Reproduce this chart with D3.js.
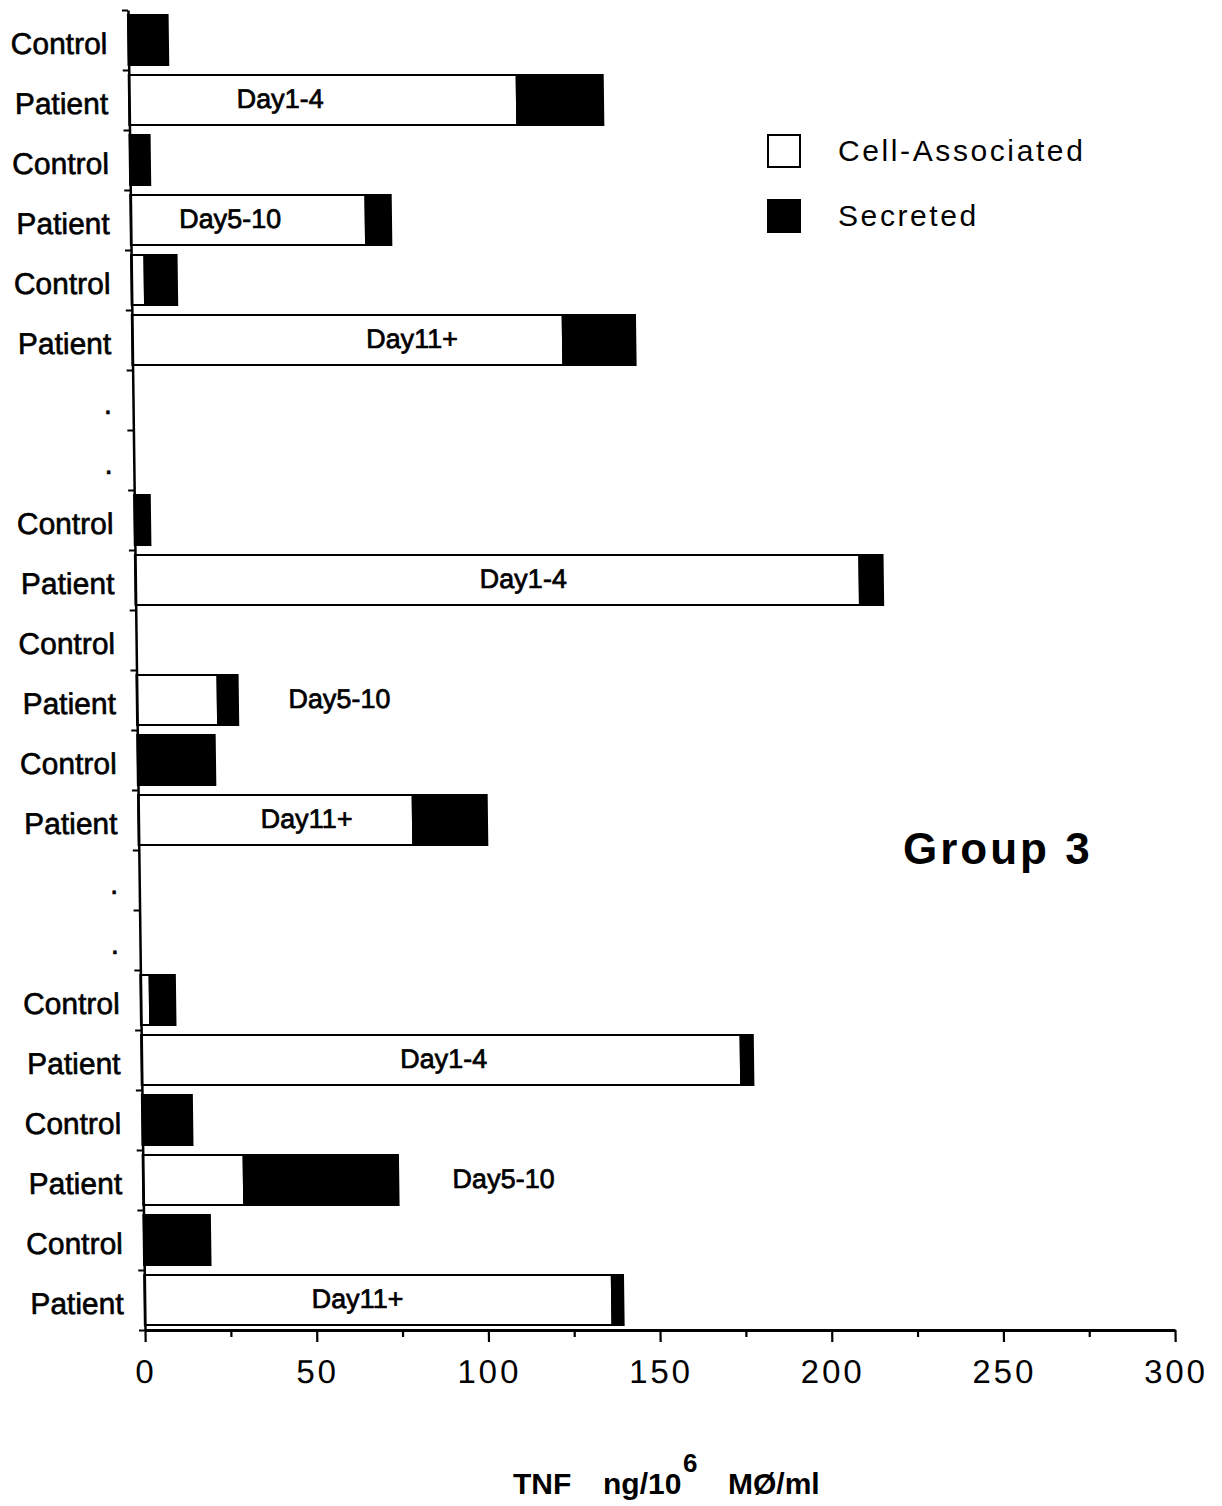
<!DOCTYPE html>
<html>
<head>
<meta charset="utf-8">
<script src="https://cdn.jsdelivr.net/npm/d3@7"></script>
<style>
  body { margin: 0; background: #fff; }
  svg text { font-family: "Liberation Sans", Arial, Helvetica, sans-serif; fill: #000; }
</style>
</head>
<body>
<div id="chart"></div>
<script>

// rows top to bottom, '.' are the empty spacer rows between groups
var rowLabels = ['Control', 'Patient', 'Control', 'Patient', 'Control', 'Patient', '.', '.',
  'Control', 'Patient', 'Control', 'Patient', 'Control', 'Patient', '.', '.',
  'Control', 'Patient', 'Control', 'Patient', 'Control', 'Patient'];

// TNF ng/10^6 MØ/ml
var cellAssociated = [0, 113, 0, 68.5, 3.9, 125.5, 0, 0,
  0, 211, 0, 23.6, 0, 80, 0, 0,
  2.7, 174.6, 0, 29.4, 0, 136.2];
var secreted = [11.5, 25, 5.8, 7.3, 9.3, 21, 0, 0,
  4.5, 6.7, 0, 5.8, 22.5, 21.5, 0, 0,
  7.3, 3.5, 14.5, 44.9, 19.3, 3.2];

// day annotations: which row, text, and where along the value axis
var dayRows = [1, 3, 5, 9, 11, 13, 17, 19, 21];
var dayLabels = ['Day1-4', 'Day5-10', 'Day11+', 'Day1-4', 'Day5-10', 'Day11+', 'Day1-4', 'Day5-10', 'Day11+'];
var dayLabelAt = [44, 29, 81.5, 113, 59, 49, 88, 105, 62];

var xTicks = [0, 25, 50, 75, 100, 125, 150, 175, 200, 225, 250, 275, 300];
var seriesNames = ['Cell-Associated', 'Secreted'];

var svgWidth = 1222;
var svgHeight = 1506;

var origin = {x: 145, y: 1330};
var width = 1030;
var height = 1320;

var svg = d3.select('#chart')
  .append('svg')
  .attr('width', svgWidth)
  .attr('height', svgHeight);

// the scanned figure leans a little, so skew the plot group
var chartGroup = svg.append('g')
  .attr('transform', `translate(${origin.x}, ${origin.y}) skewX(0.74)`);

var xScale = d3.scaleLinear()
  .domain([0, 300])
  .range([0, width]);

var yBand = d3.scaleBand()
  .domain(d3.range(rowLabels.length))
  .range([-height, 0])
  .paddingInner(1 / 6)
  .paddingOuter(1 / 12);

var yEdges = d3.scaleLinear()
  .domain([0, rowLabels.length])
  .range([-height, 0]);

var rows = rowLabels.map(function(label, i) {
  return {label: label, i: i, cell: cellAssociated[i], sec: secreted[i]};
});

// white part
chartGroup.selectAll('.cellbar')
  .data(rows.filter(d => d.cell > 0))
  .enter()
  .append('rect')
  .classed('cellbar', true)
  .attr('x', xScale(0))
  .attr('y', d => yBand(d.i))
  .attr('width', d => xScale(d.cell) - xScale(0))
  .attr('height', yBand.bandwidth())
  .attr('fill', '#fff')
  .attr('stroke', '#000')
  .attr('stroke-width', 2.2);

// black part
chartGroup.selectAll('.secbar')
  .data(rows.filter(d => d.sec > 0))
  .enter()
  .append('rect')
  .classed('secbar', true)
  .attr('x', d => xScale(d.cell))
  .attr('y', d => yBand(d.i))
  .attr('width', d => xScale(d.cell + d.sec) - xScale(d.cell))
  .attr('height', yBand.bandwidth())
  .attr('fill', '#000')
  .attr('stroke', '#000')
  .attr('stroke-width', 2.2);

// y axis with ticks on row edges
var yAxis = chartGroup.append('g')
  .call(d3.axisLeft(yEdges).tickValues(d3.range(rowLabels.length + 1)).tickSize(6).tickSizeOuter(0).tickFormat(''));
yAxis.select('.domain').attr('stroke-width', 2.5);
yAxis.selectAll('.tick line').attr('stroke-width', 2.2);

// row labels
chartGroup.selectAll('.rowlabel')
  .data(rows)
  .enter()
  .append('text')
  .classed('rowlabel', true)
  .attr('x', -21)
  .attr('y', d => yBand(d.i) + yBand.bandwidth() / 2)
  .attr('dy', '0.46em')
  .attr('text-anchor', 'end')
  .attr('font-size', '30px')
  .attr('stroke', '#000')
  .attr('stroke-width', 0.6)
  .text(d => d.label);

// day annotations
chartGroup.selectAll('.daylabel')
  .data(dayRows)
  .enter()
  .append('text')
  .classed('daylabel', true)
  .attr('x', (d, i) => xScale(dayLabelAt[i]))
  .attr('y', d => yBand(d) + yBand.bandwidth() / 2)
  .attr('dy', '0.3em')
  .attr('text-anchor', 'middle')
  .attr('font-size', '27px')
  .attr('stroke', '#000')
  .attr('stroke-width', 0.7)
  .text((d, i) => dayLabels[i]);

// x axis
var xAxis = chartGroup.append('g')
  .call(d3.axisBottom(xScale).tickValues(xTicks).tickSize(12).tickSizeOuter(0)
    .tickFormat(d => d % 50 === 0 ? d : ''));
xAxis.select('.domain').attr('stroke-width', 2.8);
xAxis.selectAll('.tick line')
  .attr('stroke-width', 2.2)
  .attr('y2', d => d % 50 === 0 ? 12 : 7);
xAxis.selectAll('.tick text')
  .attr('y', 41)
  .attr('dy', '0.36em')
  .attr('font-size', '33px')
  .attr('letter-spacing', '3px')
  .attr('font-family', '"Liberation Sans", Arial, sans-serif')
  .attr('fill', '#000');

// axis title
var xTitle = svg.append('text')
  .attr('x', 513)
  .attr('y', 1494)
  .attr('font-size', '30px')
  .attr('font-weight', 'bold');
xTitle.append('tspan').text('TNF');
xTitle.append('tspan').attr('x', 603).text('ng/10');
xTitle.append('tspan').attr('x', 683).attr('dy', -22).attr('font-size', '26px').text('6');
xTitle.append('tspan').attr('x', 728).attr('dy', 22).text('MØ/ml');

// legend
var legend = svg.append('g')
  .attr('transform', 'translate(768, 135)');

var legendItems = legend.selectAll('.legenditem')
  .data(seriesNames)
  .enter()
  .append('g')
  .classed('legenditem', true)
  .attr('transform', (d, i) => `translate(0, ${i * 65})`);

legendItems.append('rect')
  .attr('width', 32)
  .attr('height', 32)
  .attr('fill', (d, i) => i === 0 ? '#fff' : '#000')
  .attr('stroke', '#000')
  .attr('stroke-width', 2);

legendItems.append('text')
  .attr('x', 70)
  .attr('y', 15)
  .attr('dy', '0.36em')
  .attr('font-size', '30px')
  .attr('letter-spacing', '2.6px')
  .text(d => d);

// group title
svg.append('text')
  .attr('x', 903)
  .attr('y', 848)
  .attr('dy', '0.36em')
  .attr('font-size', '44px')
  .attr('font-weight', 'bold')
  .attr('letter-spacing', '3px')
  .text('Group 3');

</script>
</body>
</html>
